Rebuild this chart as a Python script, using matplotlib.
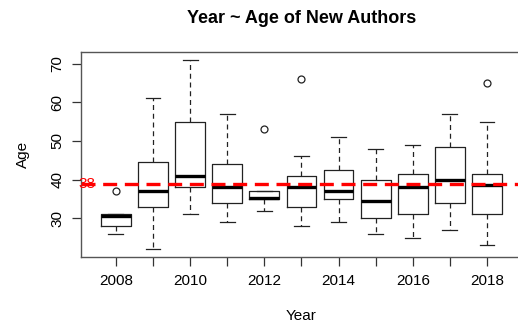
import matplotlib
matplotlib.use("Agg")
import matplotlib.pyplot as plt

plt.rcParams['font.family'] = ['Liberation Sans', 'DejaVu Sans']

years = [2008, 2009, 2010, 2011, 2012, 2013, 2014, 2015, 2016, 2017, 2018]
whisker_low = [26, 22, 31, 29, 32, 28, 29, 26, 25, 27, 23]
q1 = [28, 33, 38, 34, 35, 33, 35, 30, 31, 34, 31]
medians = [30.6, 37, 41, 38, 35.3, 38, 37, 34.5, 38, 40, 38.5]
q3 = [31, 44.5, 55, 44, 37, 41, 42.5, 40, 41.5, 48.5, 41.5]
whisker_high = [31, 61, 71, 57, 37, 46, 51, 48, 49, 57, 55]
outliers = [[37], [], [], [], [53], [66], [], [], [], [], [65]]
mean_age = 38.8
tick_years = [2008, 2010, 2012, 2014, 2016, 2018]
y_ticks = [30, 40, 50, 60, 70]

stats = []
for i in range(len(years)):
    stats.append(dict(med=medians[i], q1=q1[i], q3=q3[i],
                      whislo=whisker_low[i], whishi=whisker_high[i],
                      fliers=outliers[i], label=str(years[i])))

fig = plt.figure(figsize=(5.18, 3.31), dpi=100)
ax = fig.add_axes([81/518, (331-256.7)/331, (521.9-81)/518, (256.7-52.3)/331])

edge = '#222222'
positions = list(range(1, len(years) + 1))
ax.bxp(stats, positions=positions, widths=0.8, patch_artist=False,
       boxprops=dict(color=edge, lw=0.9),
       medianprops=dict(color='black', lw=2.4, solid_capstyle='butt'),
       whiskerprops=dict(color=edge, lw=0.9, linestyle=(0, (4, 3))),
       capprops=dict(color=edge, lw=0.9),
       flierprops=dict(marker='o', markersize=5, markerfacecolor='none',
                       markeredgecolor=edge, markeredgewidth=0.9),
       capwidths=0.4, manage_ticks=False)

ax.set_xlim(0.06, 11.94)
ax.set_ylim(20.04, 72.96)

ax.axhline(mean_age, color='red', lw=2.4, linestyle=(0, (4.2, 2.3)), zorder=5)
ax.text(0.23, mean_age, f"{int(mean_age)}", color='red', fontsize=11,
        ha='center', va='center', zorder=6)

ax.set_xticks(positions)
ax.set_xticklabels([str(y) if y in tick_years else '' for y in years], fontsize=11)
ax.set_yticks(y_ticks)
ax.set_yticklabels([str(v) for v in y_ticks], fontsize=11, rotation=90, va='center')
ax.tick_params(axis='both', length=6.7, width=0.9, color='#333333', direction='out')
ax.tick_params(axis='x', pad=6)
ax.tick_params(axis='y', pad=5)

for s in ax.spines.values():
    s.set_color('#555555')
    s.set_linewidth(1.0)

ax.set_title("Year ~ Age of New Authors", fontsize=13, fontweight='bold', pad=21)
ax.set_xlabel("Year", fontsize=11, labelpad=15)
ax.set_ylabel("Age", fontsize=11, labelpad=15)

fig.savefig("out.png", dpi=100)
